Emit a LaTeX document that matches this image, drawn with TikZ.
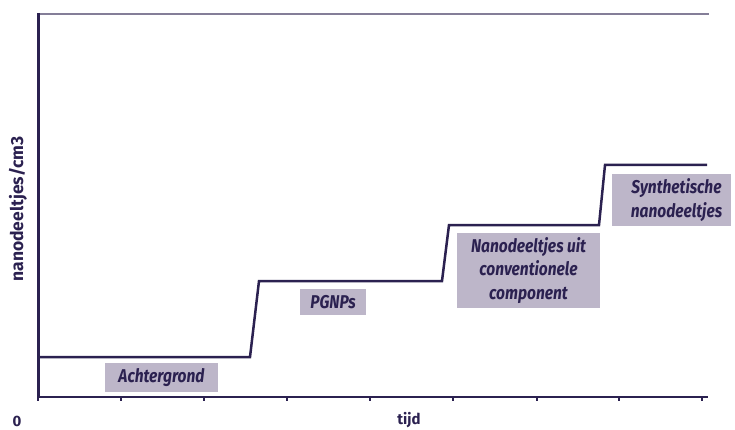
\documentclass[tikz,border=0pt]{standalone}
\usepackage{fontspec}
\setmainfont{Fira Sans}
\newfontfamily\stagefont[FakeStretch=0.84]{Fira Sans}
\usetikzlibrary{positioning}

\definecolor{ink}{HTML}{2B2150}
\definecolor{labelfill}{HTML}{BDB6C9}
\definecolor{framegray}{HTML}{847E98}

\tikzset{
    stagebox/.style={fill=labelfill, text=ink, align=center, inner sep=0pt,
        font=\stagefont\bfseries\itshape\fontsize{18.5}{23.5}\selectfont},
    axislabel/.style={text=ink, inner sep=0pt, font=\bfseries\fontsize{15}{18}\selectfont},
}

\begin{document}
\begin{tikzpicture}[x=1pt, y=-1pt, line join=miter]
    \useasboundingbox (0, 0) rectangle (735, 430);

    % frame and axes
    \draw [framegray, line width=2pt] (38, 14) -- (709, 14);
    \draw [ink, line width=2.5pt] (38.5, 13) -- (38.5, 397) -- (708, 397);
    \foreach \x in {38, 121, 204, 287, 370, 453, 537, 619, 702} {
        \draw [ink, line width=1.5pt] (\x, 397) -- (\x, 401);
        }

    % concentration steps
    \draw [ink, line width=2.5pt] (39, 357) -- (250, 357) -- (259, 281) -- (442, 281)
        -- (449, 225) -- (599, 225) -- (605, 165) -- (707, 165);

    % stage labels
    \node [stagebox, minimum width=113pt, minimum height=29pt] (achtergrond) at (161.5, 377.5) {Achtergrond};
    \node [stagebox, minimum width=66pt, minimum height=26pt] (pgnps) at (333, 302) {PGNPs};
    \node [stagebox, minimum width=143pt, minimum height=75pt] (conventioneel) at (528.5, 270.5)
        {Nanodeeltjes uit\\conventionele\\component};
    \node [stagebox, minimum width=119pt, minimum height=52pt] (synthetisch) at (671.5, 200)
        {\hspace*{10pt}Synthetische\\\hspace*{10pt}nanodeeltjes};

    % axis labels
    \node [axislabel, rotate=90, font=\bfseries\fontsize{17.5}{20}\selectfont] (yas) at (18, 209) {nanodeeltjes/cm3};
    \node [axislabel] (nul) at (17, 421) {0};
    \node [axislabel] (tijd) at (409, 420) {tijd};
\end{tikzpicture}
\end{document}
